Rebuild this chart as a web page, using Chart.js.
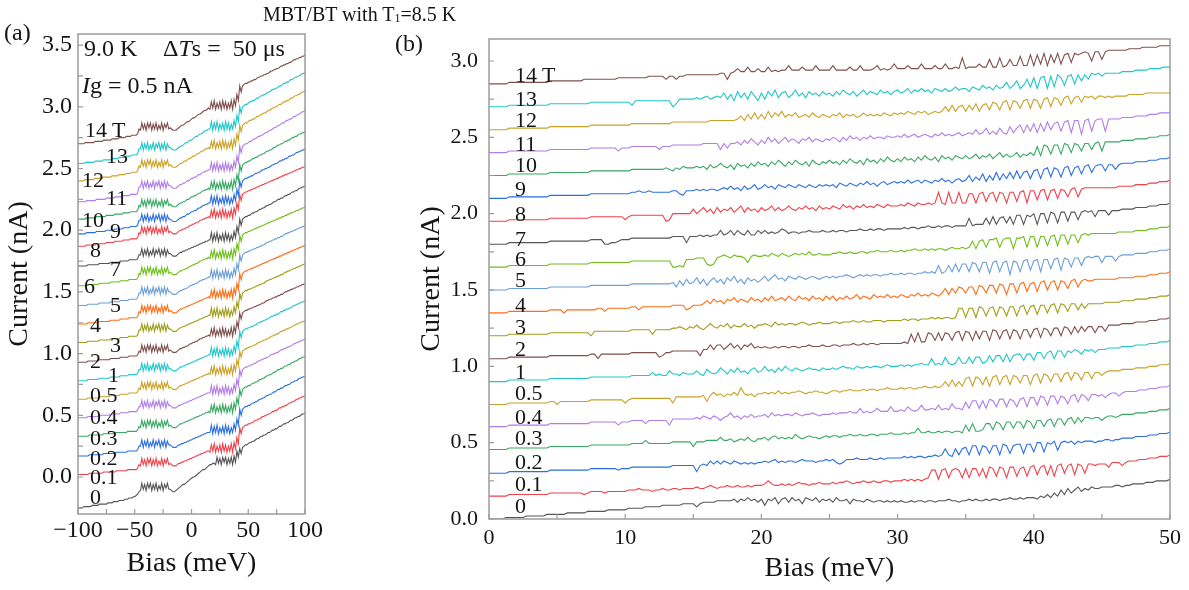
<!DOCTYPE html>
<html>
<head>
<meta charset="utf-8">
<script src="https://cdn.jsdelivr.net/npm/chart.js@4.4.1/dist/chart.umd.min.js"></script>
<style>
body { margin: 0; background: #fff; }
#page { position: relative; width: 1189px; height: 590px; overflow: hidden; font-family: 'Liberation Serif', 'Times New Roman', serif; color: #151515; }
canvas { position: absolute; top: 0; }
.t { position: absolute; line-height: 1; white-space: nowrap; }
</style>
</head>
<body>
<div id="page">
  <canvas id="chartA" width="330" height="590" style="left:0"></canvas>
  <canvas id="chartB" width="789" height="590" style="left:400px"></canvas>
</div>
<script>
// field of each trace, bottom to top, and its colour
const fields = ['0', '0.1', '0.2', '0.3', '0.4', '0.5', '1', '2', '3', '4', '5', '6', '7', '8', '9', '10', '11', '12', '13', '14 T'];
const colors = ['#555555', '#f0424a', '#2a6fe0', '#38a862', '#b07ee6', '#c9a227', '#22c6c8', '#7f4f4e', '#9e9e18', '#ff6c14',
                '#6b9fd6', '#6fbe1c', '#555555', '#f0424a', '#2a6fe0', '#38a862', '#b07ee6', '#c9a227', '#22c6c8', '#7f4f4e'];

// (a) bias -100..100 meV, samples every 1.25 meV
// startA = current at -100 meV (nA), traces in units of 0.01 nA above that
const biasA = [-100, 100];
const startA = [-0.25, 0.02, 0.17, 0.33, 0.48, 0.63, 0.78, 0.93, 1.09, 1.24, 1.39, 1.55, 1.71, 1.87, 1.97, 2.09, 2.23, 2.40, 2.54, 2.70];
const iA_0 = [
  0,0,0,0,1,1,1,1,1,1,2,2,2,2,2,3,3,3,3,3,3,4,4,4,4,5,5,5,5,6,6,6,6,7,7,7,8,8,8,9,9, 10,11,13,
  14,20,15,19,14,20,16,20,14,19,15,20,14,18,15,20,14,19,16,20,15, 15,14,13,13,14,15,
  16,17,18,19,19,20,21,22,23,24,25,25,26,27,28,29,30,31,31,32,33,34,
  35,35,36,36,35,41,36,40,35,41,37,41,35,40,36,41,35, 42,37,46,41,48,44,49,
  50,51,51,52,53,53,54,54,55,56,56,57,58,58,59,59,60,61,61,62,63,63,64,64,65,66,66,67,68,68,69,69,70,71,71,72,73,73,74,74,75,76,76,77];
const iA_0p1 = [
  0,0,0,0,0,0,0,0,1,1,1,1,1,1,1,1,1,1,2,2,2,2,2,2,2,2,2,3,3,3,3,3,3,3,3,4,4,4,4,4,4, 4,5,8,
  7,13,8,12,7,13,9,13,7,12,8,13,7,11,8,13,7,12,9,13,8, 9,8,7,7,7,8,
  9,9,10,10,11,11,12,12,13,13,14,14,15,15,16,16,17,17,18,18,19,19,
  18,24,19,25,18,23,19,24,18,25,19,24,18,23,19,25,18, 26,21,30,25,38,33,38,
  39,40,40,41,41,42,42,43,44,44,45,45,46,47,47,48,48,49,49,50,51,51,52,52,53,54,54,55,55,56,56,57,58,58,59,59,60,61,61,62,62,63,63,64];
const iA_0p2 = [
  0,0,0,0,0,0,0,0,1,1,1,1,1,1,1,1,1,1,2,2,2,2,2,2,2,2,2,3,3,3,3,3,3,3,3,4,4,4,4,4,4, 4,5,8,
  8,13,7,12,8,13,7,11,8,13,7,12,9,13,7,12,8,13,7,12,9, 9,8,7,7,7,8,
  9,9,10,10,11,11,12,12,13,13,14,14,15,15,16,16,17,17,18,18,19,19,
  19,25,18,24,19,25,18,23,19,24,18,25,19,24,18,23,19, 26,21,30,25,38,33,38,
  39,40,40,41,41,42,43,43,44,44,45,46,46,47,47,48,49,49,50,50,51,52,52,53,54,54,55,55,56,57,57,58,58,59,60,60,61,61,62,63,63,64,64,65];
const iA_0p3 = [
  0,0,0,0,0,0,0,0,1,1,1,1,1,1,1,1,1,1,2,2,2,2,2,2,2,2,2,3,3,3,3,3,3,3,3,4,4,4,4,4,4, 4,5,8,
  7,13,8,12,7,13,9,13,7,12,8,13,7,11,8,13,7,12,9,13,8, 9,8,7,7,7,8,
  9,10,10,11,11,12,12,13,13,14,14,15,15,16,16,17,17,18,18,19,19,20,
  19,25,20,26,19,24,20,25,19,26,20,25,19,24,20,26,19, 27,22,31,26,38,33,38,
  39,40,40,41,41,42,43,43,44,44,45,46,46,47,47,48,49,49,50,50,51,52,52,53,54,54,55,55,56,57,57,58,58,59,60,60,61,61,62,63,63,64,64,65];
const iA_0p4 = [
  0,0,0,0,0,0,0,1,1,1,1,1,1,1,1,2,2,2,2,2,2,2,2,3,3,3,3,3,3,3,4,4,4,4,4,4,5,5,5,5,5, 5,6,9,
  9,14,8,13,9,14,8,12,9,14,8,13,10,14,8,13,9,14,8,13,10, 10,9,8,8,8,9,
  10,10,11,11,12,12,13,13,14,14,15,15,16,16,17,17,18,18,19,19,20,20,
  20,26,19,25,20,26,19,24,20,25,19,26,20,25,19,24,20, 27,22,31,26,39,34,39,
  40,41,41,42,42,43,43,44,44,45,46,46,47,47,48,48,49,49,50,51,51,52,52,53,53,54,55,55,56,56,57,57,58,58,59,60,60,61,61,62,62,63,63,64];
const iA_0p5 = [
  0,0,0,0,0,0,0,1,1,1,1,1,1,1,1,2,2,2,2,2,2,2,2,3,3,3,3,3,3,3,4,4,4,4,4,4,5,5,5,5,5, 5,6,9,
  8,14,9,13,8,14,10,14,8,13,9,14,8,12,9,14,8,13,10,14,9, 10,9,8,8,8,9,
  10,11,11,12,12,13,13,14,14,15,15,16,16,17,17,18,18,19,19,20,20,21,
  20,26,21,27,20,25,21,26,20,27,21,26,20,25,21,27,20, 28,23,32,27,39,34,39,
  40,41,41,42,42,43,43,44,44,45,46,46,47,47,48,48,49,49,50,51,51,52,52,53,53,54,55,55,56,56,57,57,58,58,59,60,60,61,61,62,62,63,63,64];
const iA_1 = [
  0,0,0,0,0,0,0,1,1,1,1,1,1,1,1,2,2,2,2,2,2,2,2,3,3,3,3,3,3,3,4,4,4,4,4,4,5,5,5,5,5, 5,6,9,
  9,14,8,13,9,14,8,12,9,14,8,13,10,14,8,13,9,14,8,13,10, 10,9,8,8,8,9,
  10,11,11,12,12,13,13,14,14,15,15,16,16,17,17,18,18,19,19,20,20,21,
  21,27,20,26,21,27,20,25,21,26,20,27,21,26,20,25,21, 28,23,32,27,40,35,40,
  41,42,42,43,43,44,44,45,45,46,47,47,48,48,49,49,50,50,51,52,52,53,53,54,54,55,56,56,57,57,58,58,59,59,60,61,61,62,62,63,63,64,64,65];
const iA_2 = [
  0,0,0,0,0,0,0,1,1,1,1,1,1,1,1,2,2,2,2,2,2,2,2,3,3,3,3,3,3,3,4,4,4,4,4,4,5,5,5,5,5, 5,6,9,
  8,14,9,13,8,14,10,14,8,13,9,14,8,12,9,14,8,13,10,14,9, 10,9,8,8,8,9,
  10,11,11,12,12,13,13,14,15,15,16,16,17,17,18,19,19,20,20,21,21,22,
  21,27,22,28,21,26,22,27,21,28,22,27,21,26,22,28,21, 29,24,33,28,40,35,40,
  41,42,42,43,43,44,44,45,45,46,46,47,47,48,48,49,50,50,51,51,52,52,53,53,54,54,55,55,56,57,57,58,58,59,59,60,60,61,61,62,62,63,63,64];
const iA_3 = [
  0,0,0,0,0,0,0,1,1,1,1,1,1,1,1,2,2,2,2,2,2,2,2,3,3,3,3,3,3,3,4,4,4,4,4,4,5,5,5,5,5, 5,6,10,
  10,15,9,14,10,15,9,13,10,15,9,14,11,15,9,14,10,15,9,14,11, 11,10,9,9,9,10,
  11,12,12,13,13,14,14,15,15,16,16,17,17,18,18,19,19,20,20,21,21,22,
  22,28,21,27,22,28,21,26,22,27,21,28,22,27,21,26,22, 29,24,33,28,40,35,40,
  41,42,42,43,43,44,44,45,45,46,46,47,47,48,48,49,50,50,51,51,52,52,53,53,54,54,55,55,56,57,57,58,58,59,59,60,60,61,61,62,62,63,63,64];
const iA_4 = [
  0,0,0,0,0,0,0,1,1,1,1,1,1,1,1,2,2,2,2,2,2,2,2,3,3,3,3,3,3,3,4,4,4,4,4,4,5,5,5,5,5, 5,6,10,
  9,15,10,14,9,15,11,15,9,14,10,15,9,13,10,15,9,14,11,15,10, 11,10,9,9,9,10,
  11,12,12,13,13,14,14,15,15,16,16,17,17,18,18,19,19,20,20,21,21,22,
  21,27,22,28,21,26,22,27,21,28,22,27,21,26,22,28,21, 29,24,33,28,41,36,41,
  42,43,43,44,44,45,45,46,46,47,47,48,48,49,49,50,50,51,51,52,52,53,53,54,54,55,55,56,56,57,57,58,58,59,59,60,60,61,61,62,62,63,63,64];
const iA_5 = [
  0,0,0,0,0,0,0,1,1,1,1,1,1,1,1,2,2,2,2,2,2,2,2,3,3,3,3,3,3,3,4,4,4,4,4,4,5,5,5,5,5, 5,6,10,
  10,15,9,14,10,15,9,13,10,15,9,14,11,15,9,14,10,15,9,14,11, 11,10,9,9,9,10,
  11,12,12,13,13,14,14,15,16,16,17,17,18,18,19,20,20,21,21,22,22,23,
  23,29,22,28,23,29,22,27,23,28,22,29,23,28,22,27,23, 30,25,34,29,41,36,41,
  42,43,43,44,44,45,45,46,46,47,47,48,48,49,49,50,51,51,52,52,53,53,54,54,55,55,56,56,57,58,58,59,59,60,60,61,61,62,62,63,63,64,64,65];
const iA_6 = [
  0,0,0,0,0,0,0,1,1,1,1,1,1,1,1,2,2,2,2,2,2,2,2,3,3,3,3,3,3,3,4,4,4,4,4,4,5,5,5,5,5, 5,6,10,
  9,15,10,14,9,15,11,15,9,14,10,15,9,13,10,15,9,14,11,15,10, 11,10,9,9,9,10,
  11,12,12,13,13,14,14,15,16,16,17,17,18,18,19,20,20,21,21,22,22,23,
  22,28,23,29,22,27,23,28,22,29,23,28,22,27,23,29,22, 30,25,34,29,41,36,41,
  42,43,43,44,44,45,45,46,46,47,47,48,48,49,49,50,50,51,51,52,52,53,53,54,54,55,55,56,56,57,57,58,58,59,59,60,60,61,61,62,62,63,63,64];
const iA_7 = [
  0,0,0,0,0,0,0,1,1,1,1,1,1,1,1,2,2,2,2,2,2,2,2,3,3,3,3,3,3,3,4,4,4,4,4,4,5,5,5,5,5, 5,6,9,
  9,14,8,13,9,14,8,12,9,14,8,13,10,14,8,13,9,14,8,13,10, 10,9,8,8,8,9,
  10,11,11,12,12,13,13,14,14,15,15,16,16,17,17,18,18,19,19,20,20,21,
  21,27,20,26,21,27,20,25,21,26,20,27,21,26,20,25,21, 28,23,32,27,38,33,38,
  39,40,40,41,41,42,43,43,44,44,45,46,46,47,47,48,49,49,50,50,51,52,52,53,54,54,55,55,56,57,57,58,58,59,60,60,61,61,62,63,63,64,64,65];
const iA_8 = [
  0,0,0,0,0,0,1,1,1,1,1,1,1,2,2,2,2,2,2,2,3,3,3,3,3,3,4,4,4,4,4,4,5,5,5,5,5,6,6,6,6, 6,7,11,
  10,16,11,15,10,16,12,16,10,15,11,16,10,14,11,16,10,15,12,16,11, 12,11,10,10,10,11,
  12,13,13,14,14,15,15,16,17,17,18,18,19,19,20,21,21,22,22,23,23,24,
  23,29,24,30,23,28,24,29,23,30,24,29,23,28,24,30,23, 31,26,35,30,42,37,42,
  43,44,44,45,45,46,46,47,47,48,48,49,49,50,50,51,51,52,52,53,53,54,54,55,55,56,56,57,57,58,58,59,59,60,60,61,61,62,62,63,63,64,64,65];
const iA_9 = [
  0,0,0,0,0,0,1,1,1,1,1,1,1,2,2,2,2,2,2,2,3,3,3,3,3,3,4,4,4,4,4,4,5,5,5,5,5,6,6,6,6, 6,7,11,
  11,16,10,15,11,16,10,14,11,16,10,15,12,16,10,15,11,16,10,15,12, 12,11,10,10,10,11,
  12,13,13,14,14,15,16,16,17,18,18,19,19,20,21,21,22,23,23,24,24,25,
  25,31,24,30,25,31,24,29,25,30,24,31,25,30,24,29,25, 32,27,36,31,43,38,43,
  44,45,45,46,46,47,47,48,49,49,50,50,51,52,52,53,53,54,54,55,56,56,57,57,58,59,59,60,60,61,61,62,63,63,64,64,65,66,66,67,67,68,68,69];
const iA_10 = [
  0,0,0,0,0,0,1,1,1,1,1,1,1,2,2,2,2,2,2,2,3,3,3,3,3,3,4,4,4,4,4,4,5,5,5,5,5,6,6,6,6, 6,7,11,
  10,16,11,15,10,16,12,16,10,15,11,16,10,14,11,16,10,15,12,16,11, 12,11,10,10,10,11,
  12,13,13,14,14,15,16,16,17,18,18,19,19,20,21,21,22,23,23,24,24,25,
  24,30,25,31,24,29,25,30,24,31,25,30,24,29,25,31,24, 32,27,36,31,44,39,44,
  45,46,46,47,47,48,49,49,50,50,51,52,52,53,53,54,55,55,56,56,57,58,58,59,60,60,61,61,62,63,63,64,64,65,66,66,67,67,68,69,69,70,70,71];
const iA_11 = [
  0,0,0,0,0,0,1,1,1,1,1,1,1,2,2,2,2,2,2,2,3,3,3,3,3,3,4,4,4,4,4,4,5,5,5,5,5,6,6,6,6, 6,7,12,
  12,17,11,16,12,17,11,15,12,17,11,16,13,17,11,16,12,17,11,16,13, 13,12,11,11,11,12,
  13,14,14,15,15,16,17,17,18,19,19,20,20,21,22,22,23,24,24,25,25,26,
  26,32,25,31,26,32,25,30,26,31,25,32,26,31,25,30,26, 33,28,37,32,45,40,45,
  46,47,47,48,49,49,50,51,51,52,53,53,54,54,55,56,56,57,58,58,59,60,60,61,62,62,63,64,64,65,66,66,67,67,68,69,69,70,71,71,72,73,73,74];
const iA_12 = [
  0,0,0,0,0,1,1,1,1,1,1,1,2,2,2,2,2,2,3,3,3,3,3,3,4,4,4,4,4,5,5,5,5,5,6,6,6,6,7,7,7, 7,8,12,
  11,17,12,16,11,17,13,17,11,16,12,17,11,15,12,17,11,16,13,17,12, 13,12,11,11,11,12,
  13,14,14,15,16,16,17,18,18,19,20,20,21,22,22,23,24,24,25,26,26,27,
  26,32,27,33,26,31,27,32,26,33,27,32,26,31,27,33,26, 34,29,38,33,45,40,45,
  46,47,47,48,49,49,50,50,51,52,52,53,54,54,55,55,56,57,57,58,59,59,60,60,61,62,62,63,64,64,65,65,66,67,67,68,69,69,70,70,71,72,72,73];
const iA_13 = [
  0,0,0,0,0,1,1,1,1,1,1,1,2,2,2,2,2,2,3,3,3,3,3,3,4,4,4,4,4,5,5,5,5,5,6,6,6,6,7,7,7, 7,8,12,
  12,17,11,16,12,17,11,15,12,17,11,16,13,17,11,16,12,17,11,16,13, 13,12,11,11,11,12,
  13,14,14,15,16,17,17,18,19,19,20,21,22,22,23,24,24,25,26,27,27,28,
  28,34,27,33,28,34,27,32,28,33,27,34,28,33,27,32,28, 35,30,39,34,46,41,46,
  47,48,48,49,50,50,51,51,52,53,53,54,55,55,56,56,57,58,58,59,60,60,61,61,62,63,63,64,65,65,66,66,67,68,68,69,70,70,71,71,72,73,73,74];
const iA_14 = [
  0,0,0,0,0,1,1,1,1,1,1,1,2,2,2,2,2,2,3,3,3,3,3,3,4,4,4,4,4,5,5,5,5,5,6,6,6,6,7,7,7, 7,8,12,
  11,17,12,16,11,17,13,17,11,16,12,17,11,15,12,17,11,16,13,17,12, 13,12,11,11,11,12,
  13,14,15,15,16,17,18,18,19,20,21,21,22,23,24,24,25,26,27,27,28,29,
  28,34,29,35,28,33,29,34,28,35,29,34,28,33,29,35,28, 36,31,40,35,47,42,47,
  48,49,49,50,50,51,51,52,52,53,54,54,55,55,56,56,57,57,58,59,59,60,60,61,61,62,63,63,64,64,65,65,66,66,67,68,68,69,69,70,70,71,71,72];

// (b) bias 0..50 meV, samples every 0.25 meV
// startB = current at 0 meV (nA), traces in units of 0.01 nA above that
const biasB = [0, 50];
const startB = [0.00, 0.15, 0.30, 0.455, 0.605, 0.75, 0.90, 1.05, 1.20, 1.35, 1.50, 1.65, 1.80, 1.95, 2.10, 2.25, 2.40, 2.55, 2.70, 2.85];
const iB_0 = [
  0,0,0,0,0,1,1,1,1,1,1,2,2,2,2,2,2,3,3,3, 3,3,3,4,4,4,4,4,4,5,5,5,5,5,5,6,6,6,6,6,
  6,7,7,7,7,7,8,8,8,8,8,9,9,9,9,9,9,10,10,10, 10,8,10,11,11,11,11,12,12,12,12,12,13,11,13,12,14,12,13,11,
  13,9,13,12,14,10,13,14,11,14,12,13,10,14,13,12,14,11,13,12, 13,11,14,12,12,13,10,13,12,12,11,13,12,11,12,12,11,12,11,12,
  11,12,11,11,12,11,12,12,11,12,12,11,12,12,12,13,12,12,11,12, 12,13,12,13,12,12,13,12,13,13,12,13,13,14,13,13,14,13,14,14,
  14,13,15,14,16,14,17,15,19,16,20,17,19,21,18,20,19,21,20,20, 21,21,21,21,22,22,21,22,22,23,23,23,23,24,24,24,25,25,25,25, 26];
const iB_0p1 = [
  0,0,0,0,0,0,1,1,1,1,1,1,1,1,1,1,1,1,2,2, 2,2,2,2,2,2,2,2,1,2,3,3,3,3,2,3,3,3,3,3,
  3,4,4,4,5,4,4,4,3,4,4,5,4,4,5,5,4,5,5,5, 5,6,5,5,6,7,6,5,6,6,7,6,6,7,6,6,7,6,7,7,
  7,8,10,8,7,7,8,7,8,7,8,9,8,8,7,8,8,9,8,8, 8,9,8,9,9,10,9,8,9,9,10,9,9,10,9,9,10,10,9,10,
  10,10,11,10,11,10,11,10,11,12,17,17,11,17,18,12,17,18,17,12, 18,12,18,18,13,18,12,19,18,13,19,18,12,19,19,13,18,19,13,19,
  20,14,19,20,14,20,13,20,21,15,20,21,14,21,20,15,21,21,20,21, 21,21,19,22,22,22,20,22,23,23,23,24,24,24,25,25,25,26,26,26, 27];
const iB_0p2 = [
  0,0,0,0,0,0,1,1,1,1,1,1,1,1,1,1,1,1,2,2, 2,2,2,2,2,2,2,2,2,2,3,3,3,3,3,3,3,3,2,3,
  3,3,4,4,4,4,4,4,4,4,4,4,4,4,5,5,5,5,5,5, 5,1,5,6,5,8,6,8,6,8,7,6,8,7,6,7,6,7,6,7,
  7,8,7,8,9,7,8,7,8,8,7,8,9,8,8,8,7,8,8,9, 8,9,7,6,7,9,9,9,10,9,9,9,10,9,9,10,9,10,10,10,
  10,10,11,10,11,10,11,11,10,11,11,12,11,12,16,12,11,16,12,16, 17,12,18,18,12,18,17,13,18,18,12,19,18,13,18,19,19,13,19,19,
  14,20,20,14,20,19,21,15,20,21,20,21,19,21,20,21,21,21,20,21, 21,22,22,21,22,22,23,23,23,23,24,24,24,24,25,25,25,26,26,26, 27];
const iB_0p3 = [
  0,0,0,0,0,0,1,1,1,1,1,1,1,1,1,1,1,1,2,2, 2,2,2,2,2,2,2,2,2,2,3,3,3,3,3,3,3,3,3,3,
  3,3,4,4,4,4,6,4,4,4,4,4,4,4,5,5,5,5,5,5, 2,5,5,5,6,6,6,6,8,6,6,7,5,6,7,6,8,6,5,7,
  7,8,6,8,9,7,8,7,8,7,10,8,7,8,9,8,8,7,8,9, 8,9,9,8,9,9,10,9,9,10,9,9,10,10,9,10,10,10,11,10,
  10,10,11,10,11,11,14,11,11,12,11,11,12,11,12,12,11,12,12,11, 16,12,17,12,12,13,17,17,13,18,17,13,18,18,14,18,18,14,19,18,
  14,19,19,15,19,20,15,20,20,16,20,21,17,21,18,21,21,20,21,21, 19,21,22,22,21,22,23,23,23,23,24,24,24,24,25,25,25,26,26,26, 27];
const iB_0p4 = [
  0,0,0,0,0,0,1,1,1,1,1,1,1,1,1,1,1,1,2,2, 2,2,2,2,2,2,2,2,2,2,3,3,3,3,3,3,3,3,1,3,
  3,3,4,4,4,4,2,4,4,4,4,4,4,1,5,5,5,5,5,5, 5,6,5,7,6,5,7,6,4,6,7,9,6,7,5,7,6,8,6,7,
  7,8,6,9,7,8,7,8,8,7,9,8,7,8,8,9,8,7,8,8, 8,9,8,9,9,9,10,9,9,12,9,10,9,10,12,10,10,10,13,10,
  10,11,10,13,11,10,11,14,11,11,12,11,14,11,12,11,15,12,12,11, 16,12,17,17,12,17,12,18,17,13,18,18,13,18,17,13,18,19,13,19,
  19,14,20,19,14,20,20,15,20,19,15,20,21,16,21,20,17,21,21,20, 21,19,21,22,22,20,22,23,23,23,23,24,24,24,25,25,25,26,26,26, 27];
const iB_0p5 = [
  0,0,0,0,0,0,1,1,1,1,1,1,1,1,1,1,1,1,2,2, 0,2,2,2,2,2,2,2,2,2,3,3,3,3,3,3,3,3,3,3,
  1,3,4,4,4,4,4,4,4,4,4,4,4,4,1,5,5,5,5,5, 5,5,5,6,2,6,8,6,7,5,7,6,8,6,11,7,6,7,5,7,
  7,8,7,8,7,9,7,8,7,8,8,9,8,7,8,8,9,8,8,7, 8,9,9,8,9,9,10,9,9,9,10,9,10,10,9,10,10,11,10,10,
  10,11,10,11,11,10,11,11,12,11,11,12,11,12,15,12,16,12,15,12, 17,18,12,18,17,13,18,12,18,19,13,18,19,13,19,18,14,19,19,13,
  19,20,14,20,19,15,20,20,15,20,21,16,21,20,16,21,21,17,21,21, 19,21,22,22,22,22,23,23,23,23,24,24,24,24,25,25,25,26,26,26, 27];
const iB_1 = [
  0,0,0,0,0,0,1,1,1,1,1,1,1,1,1,1,1,1,2,2, 2,2,2,2,2,2,2,2,2,2,3,3,3,3,3,3,3,3,3,3,
  3,3,4,4,4,4,4,4,6,4,5,4,4,7,5,5,4,6,5,5, 5,7,5,4,8,6,5,6,9,7,5,8,6,9,6,7,5,8,9,6,
  7,10,7,8,6,9,7,10,8,7,9,8,7,8,9,8,8,7,9,8, 8,9,8,9,10,9,9,8,10,9,9,10,9,10,10,9,10,11,10,10,
  10,11,10,11,10,11,11,12,11,11,15,11,12,11,16,12,11,12,16,12, 12,16,12,16,16,12,13,17,13,17,17,13,18,13,17,18,18,14,18,18,
  14,19,19,15,19,20,15,20,20,16,20,19,21,20,18,21,20,21,19,21, 21,21,22,22,22,22,23,23,23,23,24,24,24,24,25,25,25,26,26,26, 27];
const iB_2 = [
  0,0,0,0,0,0,1,1,1,1,1,1,1,1,1,1,1,1,2,2, 2,2,2,2,2,2,2,2,2,2,3,3,0,3,3,3,3,3,3,3,
  3,3,4,4,4,4,4,4,4,4,1,2,4,4,5,5,5,5,5,5, 5,5,2,6,6,9,6,9,9,6,8,10,7,9,6,9,8,10,7,8,
  7,8,7,7,8,7,8,8,7,8,8,7,8,8,9,8,8,8,9,8, 8,9,9,8,9,9,9,10,9,9,10,9,10,10,9,10,10,10,10,10,
  10,10,11,10,16,11,17,11,11,17,16,12,17,12,17,16,12,17,18,12, 18,17,12,18,13,18,18,12,19,18,13,18,19,13,19,18,13,19,19,14,
  19,20,14,20,19,15,20,20,15,21,20,16,21,17,21,18,21,21,17,21, 21,18,22,22,22,22,23,23,23,23,24,24,24,24,25,25,25,26,26,26, 27];
const iB_3 = [
  0,0,0,0,0,0,1,1,1,1,1,1,1,1,1,1,1,1,2,2, 2,2,2,2,2,2,2,2,2,2,0,3,3,3,3,3,3,3,3,3,
  3,3,4,4,4,4,4,4,1,4,4,4,4,4,5,5,6,5,4,6, 5,7,5,4,6,8,6,5,7,6,8,5,7,6,6,8,6,7,5,7,
  7,8,7,6,9,7,8,7,8,8,7,8,9,8,7,8,8,9,8,8, 8,9,9,8,9,9,9,10,9,9,10,9,9,10,10,10,9,10,10,10,
  10,10,11,10,11,11,10,11,11,11,12,11,12,11,12,12,11,12,18,18, 12,18,18,12,19,18,13,18,19,13,19,18,13,19,19,13,19,20,14,19,
  20,14,20,20,15,20,21,15,21,20,16,21,21,17,21,18,21,21,21,21, 21,22,22,22,22,22,23,23,23,23,24,24,24,24,25,25,25,26,26,26, 27];
const iB_4 = [
  0,0,0,0,0,0,1,1,1,1,1,1,1,1,1,1,1,1,2,2, 2,2,0,2,2,2,2,2,2,2,2,2,3,3,1,3,3,3,3,3,
  3,3,4,4,2,4,4,4,4,4,4,4,4,4,5,5,5,5,2,3, 5,5,5,6,8,6,9,7,8,6,9,8,10,7,9,8,7,10,8,9,
  7,10,8,11,8,9,10,8,11,9,8,11,9,10,8,11,9,10,8,11, 9,11,8,10,9,11,9,10,12,9,11,10,9,12,10,11,10,12,10,11,
  10,12,11,10,12,11,13,11,12,11,13,12,11,13,16,12,16,13,17,16, 13,17,17,12,18,17,13,18,18,13,19,18,12,19,19,13,19,20,14,19,
  20,14,20,21,15,20,21,15,21,20,16,21,22,17,21,22,21,21,22,22, 22,22,22,22,22,23,23,23,23,23,24,24,24,24,25,25,25,26,26,26, 27];
const iB_5 = [
  0,0,0,0,0,0,1,1,1,1,1,1,1,1,1,1,1,1,2,2, 2,2,2,2,2,2,2,2,2,2,3,3,3,3,3,3,3,3,3,3,
  3,3,4,4,4,4,4,4,4,4,4,4,4,4,5,2,6,3,7,4, 5,8,4,7,3,6,8,5,7,4,8,6,9,5,7,4,8,6,7,5,
  7,9,6,8,10,7,8,6,9,8,7,9,8,7,8,9,8,7,8,9, 8,9,8,9,9,10,9,8,9,10,9,10,9,10,10,9,10,10,11,10,
  10,11,10,11,11,10,11,11,12,11,12,11,16,11,12,16,12,17,12,17, 17,12,18,17,12,18,18,11,18,19,12,18,19,10,19,18,12,19,20,13,
  19,20,12,20,20,14,20,21,13,21,20,15,21,21,16,21,22,21,22,22, 18,22,22,22,19,22,23,23,23,23,24,24,24,24,25,25,25,26,26,26, 27];
const iB_6 = [
  0,0,0,0,0,0,1,1,1,1,1,1,1,1,1,1,1,1,2,2, 2,2,2,2,2,2,2,2,2,2,3,3,3,3,3,3,3,3,3,3,
  3,3,4,4,4,4,4,4,4,4,4,4,4,4,0,0,1,0,5,5, 5,6,6,6,2,1,2,6,7,8,7,6,8,7,7,6,3,7,8,7,
  7,8,7,9,8,7,9,8,7,8,9,8,9,8,10,8,8,9,8,8, 8,9,9,10,9,9,10,9,9,10,10,9,10,10,11,10,10,10,11,10,
  10,11,10,11,11,12,11,11,12,11,12,11,12,12,11,12,13,12,12,13, 12,13,17,12,17,18,13,18,18,19,13,18,19,19,12,19,19,20,13,20,
  20,13,20,20,14,20,21,14,21,21,15,21,21,16,21,22,21,22,22,22, 22,22,22,22,22,23,23,23,23,23,24,24,24,24,25,25,25,26,26,26, 27];
const iB_7 = [
  0,0,0,0,0,0,1,1,1,1,1,1,1,1,1,1,1,1,2,2, 2,2,2,2,2,2,2,2,2,2,3,3,3,3,0,0,1,1,2,3,
  3,3,4,4,4,4,4,4,4,4,4,4,4,4,5,5,5,5,1,5, 5,5,6,5,6,5,6,6,9,6,7,9,6,9,7,6,9,6,6,9,
  7,9,7,8,7,8,10,9,7,8,8,7,8,8,9,8,8,8,9,8, 8,9,8,9,9,8,9,9,9,10,9,9,10,9,10,10,9,10,10,10,
  10,10,11,10,11,11,10,11,11,12,11,11,12,11,12,12,11,12,12,12, 12,17,12,13,13,13,17,13,18,13,17,18,14,18,13,19,19,13,19,18,
  20,13,20,20,14,21,20,14,21,21,15,21,21,16,21,22,21,22,18,22, 22,22,19,22,22,22,23,23,23,23,24,24,24,24,25,25,25,26,26,26, 27];
const iB_8 = [
  0,0,0,0,0,0,1,1,1,1,1,1,1,1,1,1,1,1,2,2, 2,2,2,2,2,2,2,2,2,2,3,3,3,3,3,3,3,3,3,3,
  1,3,4,4,4,4,4,4,4,4,4,4,0,1,5,5,5,5,5,5, 8,5,7,9,6,8,5,9,6,8,7,9,6,8,10,6,9,7,8,6,
  9,7,8,10,7,9,7,8,10,8,7,9,8,10,8,9,7,10,8,9, 8,10,9,8,11,9,10,8,10,9,11,9,10,9,11,10,9,11,10,10,
  10,11,10,12,11,10,12,11,11,12,11,12,19,12,11,19,12,12,19,12, 12,18,18,12,18,19,13,18,19,13,19,18,12,19,19,13,19,20,12,20,
  20,14,20,21,14,20,21,15,21,20,16,21,22,16,21,22,22,22,22,22, 22,22,22,22,22,23,23,23,23,23,24,24,24,24,25,25,25,26,26,26, 27];
const iB_9 = [
  0,0,0,0,0,0,1,1,1,1,1,1,1,1,1,1,1,1,2,2, 2,2,2,2,2,2,2,2,2,2,3,3,3,3,3,3,3,3,3,3,
  3,3,4,4,5,4,4,5,4,4,4,4,4,4,5,5,3,2,5,5, 5,6,5,6,5,6,6,5,6,7,6,8,6,7,5,8,6,7,9,6,
  7,9,7,8,6,9,8,7,9,8,7,9,8,7,9,8,7,9,8,9, 8,9,7,10,9,8,10,9,8,10,9,11,9,10,8,10,11,9,10,11,
  10,11,10,12,10,11,12,10,12,11,10,12,11,13,11,12,10,12,13,11, 12,15,11,14,12,16,11,15,12,17,12,16,13,17,13,18,13,17,18,13,
  18,19,13,19,20,14,20,19,14,20,21,15,20,21,16,21,22,17,21,22, 22,18,22,22,19,22,23,23,23,23,24,24,24,24,25,25,25,26,26,26, 27];
const iB_10 = [
  0,0,0,0,0,0,1,1,1,1,1,1,1,1,1,1,1,1,2,2, 2,2,2,2,2,2,2,2,2,2,3,3,3,3,3,3,3,3,3,3,
  3,3,4,4,4,4,4,4,4,4,4,4,5,4,3,5,4,6,5,5, 5,6,5,6,4,7,5,6,8,6,5,7,4,8,6,7,5,8,6,9,
  7,8,6,9,7,10,8,6,9,7,10,8,7,9,6,10,8,7,9,8, 10,8,9,7,10,8,11,9,8,10,7,11,9,10,8,11,9,12,10,9,
  11,9,12,10,11,9,12,10,13,11,10,12,9,13,11,12,10,13,12,11, 13,11,12,14,11,13,12,14,11,13,15,12,14,12,13,15,12,14,13,15,
  13,19,13,20,19,14,20,20,14,21,20,15,21,20,16,21,21,17,21,22, 16,22,22,22,22,22,23,23,23,23,24,24,24,24,25,25,25,26,26,26, 27];
const iB_11 = [
  0,0,0,0,0,0,1,1,1,1,1,1,1,1,1,1,1,1,2,2, 2,2,2,2,2,2,2,2,2,2,3,3,3,3,3,3,3,3,1,3,
  3,3,4,4,4,4,4,4,4,4,2,4,4,4,5,5,5,5,5,5, 5,5,5,6,6,6,6,6,2,6,3,6,6,7,5,8,6,9,7,5,
  8,6,10,7,9,6,8,10,7,9,8,6,9,8,10,7,9,8,7,9, 8,10,9,7,10,8,11,9,10,8,10,9,11,9,10,10,9,11,10,10,
  11,10,12,10,11,12,10,11,12,11,10,12,11,13,11,12,11,12,13,11, 12,13,12,15,12,13,16,12,14,12,16,13,12,17,13,16,18,13,18,14,
  19,13,19,14,20,15,19,20,14,20,21,13,21,21,12,21,22,14,21,22, 22,14,22,22,22,22,23,23,23,23,24,24,24,24,25,25,25,26,26,26, 26];
const iB_12 = [
  0,0,0,0,0,0,1,1,1,1,1,1,1,1,1,1,1,1,2,2, 2,2,2,2,2,2,2,2,2,2,3,3,3,3,3,3,3,3,3,3,
  3,3,4,4,4,4,4,4,4,4,4,4,4,4,5,5,5,5,5,5, 5,5,5,5,5,6,6,6,6,6,6,6,6,7,9,6,10,7,11,7,
  10,7,12,8,11,9,12,8,10,9,11,8,9,10,8,11,9,8,10,9, 8,10,9,11,8,10,9,10,8,9,11,9,10,9,10,9,11,10,9,11,
  10,11,10,12,11,10,12,11,12,10,11,12,11,12,15,12,16,12,15,16, 12,16,13,17,12,16,17,13,18,17,13,18,19,13,19,18,14,19,20,14,
  20,19,14,20,21,15,21,20,16,21,22,17,21,22,18,22,21,22,20,22, 22,21,22,21,22,22,22,22,23,23,23,23,23,24,24,24,24,24,24,24, 24];
const iB_13 = [
  0,0,0,0,0,0,1,1,1,1,1,1,1,1,1,1,1,1,2,2, 2,2,2,2,2,2,2,2,2,2,3,3,3,3,3,3,3,3,3,3,
  3,3,1,4,4,4,4,4,4,4,4,4,4,4,0,2,5,5,5,5, 5,6,5,6,7,5,6,7,6,9,5,8,4,10,6,9,5,10,7,4,
  9,5,10,7,11,6,9,10,6,8,11,7,9,6,10,8,9,7,10,8, 9,7,10,8,11,9,8,10,7,9,11,8,10,9,8,11,9,10,8,10,
  11,9,10,12,9,11,10,12,10,11,9,12,11,10,12,10,11,13,11,12, 12,10,13,12,11,14,12,13,11,14,12,13,16,12,14,17,12,14,18,13,
  19,12,19,20,12,20,13,21,19,14,20,21,15,21,17,21,18,22,21,22, 20,22,22,22,22,22,23,23,23,23,24,24,24,24,25,25,25,25,26,26, 26];
const iB_14 = [
  0,0,0,0,0,0,1,1,1,1,1,1,1,1,1,1,1,1,2,2, 2,2,2,2,2,2,2,2,3,3,3,3,3,3,3,3,3,3,4,4,
  4,4,4,4,4,4,4,5,5,5,5,5,3,5,5,3,5,5,6,6, 6,6,6,6,6,6,6,6,7,7,3,7,8,10,8,8,11,8,8,10,
  8,8,11,8,9,8,9,9,12,9,9,9,11,9,9,9,12,9,9,9, 9,12,9,9,9,9,11,9,9,12,9,9,9,10,12,9,10,9,10,13,
  10,10,10,12,10,10,10,13,10,10,10,12,10,10,13,10,10,11,10,17, 10,11,11,11,13,11,11,16,11,11,17,11,12,16,12,12,18,12,12,19,
  12,19,13,20,12,19,14,20,13,19,20,14,20,19,20,21,20,15,21,21, 16,21,22,22,22,22,22,22,23,23,23,23,24,24,24,24,24,25,25,25, 25];

const tracesA = [iA_0, iA_0p1, iA_0p2, iA_0p3, iA_0p4, iA_0p5, iA_1, iA_2, iA_3, iA_4, iA_5, iA_6, iA_7, iA_8, iA_9, iA_10, iA_11, iA_12, iA_13, iA_14];
const tracesB = [iB_0, iB_0p1, iB_0p2, iB_0p3, iB_0p4, iB_0p5, iB_1, iB_2, iB_3, iB_4, iB_5, iB_6, iB_7, iB_8, iB_9, iB_10, iB_11, iB_12, iB_13, iB_14];

const SERIF = "'Liberation Serif', 'Times New Roman', serif";

// turn one sampled trace into points on the bias grid
function toPoints(range, start, vals) {
  const step = (range[1] - range[0]) / (vals.length - 1);
  return vals.map((v, k) => ({ x: range[0] + k * step, y: start + v / 100 }));
}

function makeSets(range, starts, traces) {
  return traces.map((vals, k) => ({
    label: fields[k],
    data: toPoints(range, starts[k], vals),
    borderColor: colors[k],
    borderWidth: 1.1,
    pointRadius: 0,
    fill: false,
    tension: 0
  }));
}

// grey box and inward ticks (major + minor)
const frameTicks = {
  id: 'frameTicks',
  afterDraw(chart, args, opts) {
    const { ctx, chartArea: a, scales: { x, y } } = chart;
    ctx.save();
    ctx.strokeStyle = '#9c9c9c';
    ctx.lineWidth = 1.5;
    ctx.strokeRect(a.left, a.top, a.right - a.left, a.bottom - a.top);
    ctx.lineWidth = 1.2;
    ctx.beginPath();
    opts.xt.forEach(v => {
      const px = x.getPixelForValue(v);
      ctx.moveTo(px, a.bottom); ctx.lineTo(px, a.bottom - 5);
    });
    opts.yt.forEach(v => {
      const py = y.getPixelForValue(v);
      ctx.moveTo(a.left, py); ctx.lineTo(a.left + 5, py);
    });
    ctx.stroke();
    ctx.restore();
  }
};

function makeChart(id, sets, c) {
  return new Chart(document.getElementById(id), {
    type: 'line',
    data: { datasets: sets },
    plugins: [frameTicks],
    options: {
      responsive: false,
      animation: false,
      events: [],
      layout: { padding: { top: c.top, right: c.right, left: 0, bottom: 0 } },
      plugins: {
        legend: { display: false },
        tooltip: { enabled: false },
        frameTicks: { xt: c.xt, yt: c.yt }
      },
      scales: {
        x: {
          type: 'linear', min: c.xmin, max: c.xmax,
          afterFit: s => { s.height = c.xh; },
          grid: { display: false, drawTicks: false },
          border: { display: false },
          ticks: {
            stepSize: c.xstep, autoSkip: false, maxRotation: 0, padding: c.xpad,
            color: '#151515', font: { family: SERIF, size: c.fs },
            callback: v => (v < 0 ? '\u2212' + Math.abs(v) : String(v))
          },
          title: { display: true, text: 'Bias (meV)', color: '#151515',
                   font: { family: SERIF, size: 28 }, padding: { top: 0, bottom: c.xtp } }
        },
        y: {
          type: 'linear', min: c.ymin, max: c.ymax,
          afterFit: s => { s.width = c.yw; },
          grid: { display: false, drawTicks: false },
          border: { display: false },
          ticks: {
            stepSize: 0.5, includeBounds: false, padding: c.ypad,
            color: '#151515', font: { family: SERIF, size: c.fs },
            callback: v => v.toFixed(1)
          },
          title: { display: true, text: 'Current (nA)', color: '#151515',
                   font: { family: SERIF, size: 28 }, padding: { top: c.ytp, bottom: 0 } }
        }
      }
    }
  });
}

makeChart('chartA', makeSets(biasA, startA, tracesA), {
  top: 34, right: 25, xh: 76, yw: 78, xmin: -100, xmax: 100, xstep: 50, ymin: -0.3, ymax: 3.59,
  fs: 24, xpad: 2, ypad: 6, xtp: 10, ytp: 3,
  xt: [-100, -75, -50, -25, 0, 25, 50, 75, 100],
  yt: [-0.25, 0, 0.25, 0.5, 0.75, 1, 1.25, 1.5, 1.75, 2, 2.25, 2.5, 2.75, 3, 3.25, 3.5]
});

makeChart('chartB', makeSets(biasB, startB, tracesB), {
  top: 39, right: 19, xh: 71, yw: 89, xmin: 0, xmax: 50, xstep: 10, ymin: 0, ymax: 3.144,
  fs: 22, xpad: 6, ypad: 11, xtp: 5, ytp: 15,
  xt: [0, 5, 10, 15, 20, 25, 30, 35, 40, 45, 50],
  yt: [0, 0.25, 0.5, 0.75, 1, 1.25, 1.5, 1.75, 2, 2.25, 2.5, 2.75, 3]
});

// text: positioned by left edge and baseline
const page = document.getElementById('page');
function addText(html, left, base, size) {
  const d = document.createElement('div');
  d.className = 't';
  d.innerHTML = html;
  d.style.left = left + 'px';
  d.style.top = (base - 0.8375 * size) + 'px';
  d.style.fontSize = size + 'px';
  page.appendChild(d);
}

addText('MBT/BT with T<span style="font-size:12px;vertical-align:-1px">1</span>=8.5 K', 263, 21, 20);
addText('(a)', 4, 40, 24);
addText('(b)', 395, 51, 24);
addText('9.0 K', 84, 56, 24);
addText('&Delta;<i>T</i>s =&nbsp; 50 &mu;s', 163, 56, 24);
addText('<i>I</i>g = 0.5 nA', 82, 93, 24);

const labelPosA = [[90, 504], [90, 484], [90, 465], [90, 445], [90, 424], [90, 402], [108, 382], [90, 368], [110, 352],
                   [90, 332], [110, 312], [84, 293], [110, 276], [90, 257], [110, 238], [82, 227], [106, 205], [82, 187],
                   [106, 163], [85, 137]];
const labelBaseB = [513, 491, 469, 445, 424, 400, 379, 356, 334, 312, 287, 266, 246, 221, 196, 172, 151, 127, 106, 82];

fields.forEach((f, k) => {
  addText(f, labelPosA[k][0], labelPosA[k][1], 22);
  addText(f, 515, labelBaseB[k], 22);
});
</script>
</body>
</html>
